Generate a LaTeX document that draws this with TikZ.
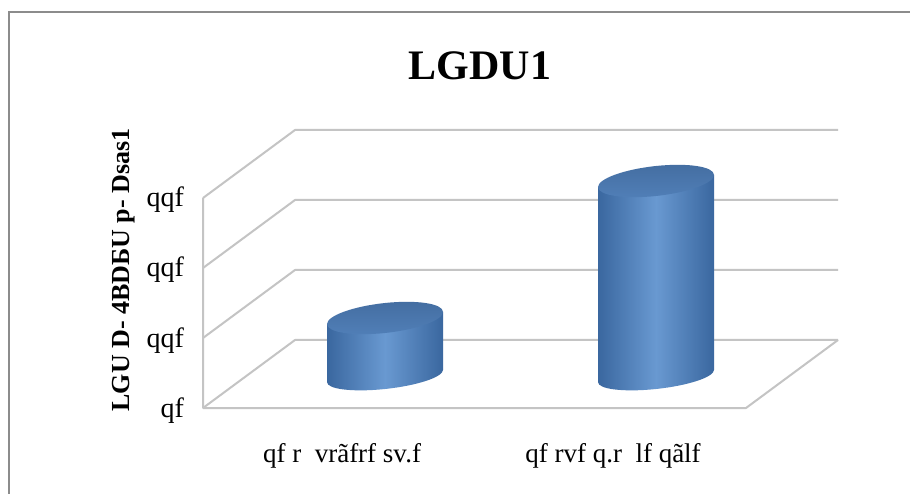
\documentclass[tikz,border=0pt]{standalone}
\usepackage{fontspec}
\setmainfont{Liberation Serif}
\usepackage{xcolor}
\usepackage{tikz}
\usetikzlibrary{positioning,calc}
\definecolor{FrameGray}{HTML}{8C8C8C}
\definecolor{GridGray}{HTML}{C4C4C4}
\definecolor{BarEdge}{HTML}{3A679F}
\definecolor{BarMid}{HTML}{6999D1}
\definecolor{BarTop}{HTML}{4B79B2}

\begin{document}
\begin{tikzpicture}[x=0.5pt,y=0.5pt,
    grid/.style={GridGray,line width=1pt,line join=round},
    tick/.style={anchor=base east,font=\fontsize{14}{16}\selectfont},
    cat/.style={anchor=base,font=\fontsize{13.5}{16}\selectfont},
    barside/.style={left color=BarEdge,right color=BarEdge,middle color=BarMid},
    bartop/.style={top color=BarTop!90!black,bottom color=BarTop!80!BarMid}]
  \useasboundingbox (0,0) rectangle (910,493);
  \clip (0,0) rectangle (910,493);
  \fill[white] (0,0) rectangle (910,493);
  \draw[FrameGray,line width=1.1pt] (9,-20) -- (9,481) -- (930,481);
  % walls and floor
  \foreach \k in {0,1,2,3}
    \draw[grid] (203,85+70*\k) -- (295,153+70*\k) -- (838,153+70*\k);
  \draw[grid] (203,295) -- (203,85) -- (746,85) -- (838,153);
  % cylinders: centre x, base y, height
  \foreach \cx/\h in {385/58,656/195}{
    \begin{scope}[shift={(\cx,117)},yslant=0.105]
      \shade[barside] (-58,\h) -- (-58,0)
        arc[start angle=180,end angle=360,x radius=58,y radius=13] -- (58,\h) -- cycle;
      \shade[bartop] (0,\h) ellipse[x radius=58,y radius=15];
    \end{scope}
  }
  \node[font=\fontsize{21}{24}\selectfont\bfseries,anchor=base] (title) at (480,413) {LGDU1};
  \node[font=\fontsize{13}{15}\selectfont\bfseries,rotate=90] (ylab) at (124,223) {LGU D- 4BDБU p- Dsas1};
  \node[tick] (t0) at (191,76) {qf};
  \node[tick] (t1) at (191,146) {qqf};
  \node[tick] (t2) at (191,216) {qqf};
  \node[tick] (t3) at (191,286) {qqf};
  \node[cat] (c1) at (342,31) {qf r\ \ vrãfrf sv.f};
  \node[cat] (c2) at (613,31) {qf rvf q.r\ \ lf qãlf};
\end{tikzpicture}
\end{document}
